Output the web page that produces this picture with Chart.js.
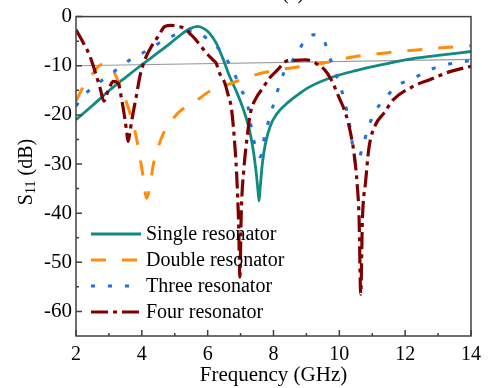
<!DOCTYPE html>
<html>
<head>
<meta charset="utf-8">
<script src="https://cdn.jsdelivr.net/npm/chart.js@4"></script>
<style>
  html, body { margin: 0; padding: 0; background: #fff; }
</style>
</head>
<body>
<canvas id="s11-chart" width="488" height="388"></canvas>
<script>
// tick positions
const xTicks = [2, 4, 6, 8, 10, 12, 14];
const xMinorTicks = [3, 5, 7, 9, 11, 13];
const yTicks = [0, -10, -20, -30, -40, -50, -60];
const yMinorTicks = [-5, -15, -25, -35, -45, -55];

// single resonator
const singleFreq = [2, 2.5, 3, 3.5, 4, 4.5, 4.85, 5.2, 5.45, 5.7, 5.9, 6.06, 6.26, 6.46, 6.67, 6.87, 7.07, 7.25, 7.38, 7.47, 7.53, 7.56, 7.6, 7.66, 7.75, 7.9, 8.1, 8.45, 8.8, 9.1, 9.8, 10.5, 11.5, 12, 13, 14];
const singleS11 = [-21, -18.1, -15.1, -12.4, -9.8, -7.3, -5.5, -3.6, -2.5, -2.0, -2.5, -3.4, -5.4, -8.5, -12.2, -15.2, -18.6, -22.5, -27, -31.5, -35.5, -37.5, -34.5, -30, -26, -22.3, -19.8, -17.4, -15.6, -14.3, -12.3, -11.0, -9.5, -8.8, -7.9, -7.1];

// double resonator
const doubleFreq = [2, 2.17, 2.35, 2.52, 2.65, 2.85, 3.05, 3.28, 3.45, 3.59, 3.79, 3.94, 4.06, 4.14, 4.25, 4.33, 4.5, 4.64, 4.9, 5.15, 5.66, 6.06, 6.67, 7.47, 8.0, 8.48, 9.49, 10.5, 11.4, 12, 13, 14];
const doubleS11 = [-17.2, -14.9, -12.8, -11.5, -10.3, -9.6, -10.0, -13.2, -16, -18.6, -23.3, -28.5, -33.5, -37.0, -34.5, -30.8, -26.5, -24, -21.2, -19.3, -17.1, -15.2, -13.7, -11.8, -11.0, -10.5, -9.5, -8.1, -7.4, -7.0, -6.4, -5.9];

// three resonator
const threeFreq = [2, 2.32, 2.78, 3.23, 3.69, 4.19, 4.7, 5.25, 5.5, 5.71, 6.16, 6.52, 6.82, 7.02, 7.2, 7.32, 7.42, 7.6, 7.73, 7.88, 8.03, 8.18, 8.33, 8.52, 8.69, 9.04, 9.25, 9.5, 9.7, 9.9, 10.0, 10.15, 10.3, 10.52, 10.7, 10.86, 11.06, 11.36, 11.73, 12.24, 12.76, 13.24, 13.85, 14];
const threeS11 = [-18.2, -15.5, -13.0, -10.8, -8.6, -6.8, -4.7, -3.2, -3.0, -3.4, -5.4, -8.1, -11.8, -14.9, -17.5, -22.3, -25.7, -28.5, -24.3, -20.6, -17.2, -13.9, -11.2, -9.5, -7.8, -4.1, -3.7, -4.4, -8.1, -11.8, -13.5, -17, -21.5, -30, -26.7, -23, -19.6, -16.9, -14.2, -12.6, -10.8, -9.8, -9.1, -8.9];

// four resonator
const fourFreq = [2, 2.22, 2.42, 2.58, 2.73, 2.85, 2.93, 3.03, 3.13, 3.28, 3.38, 3.48, 3.54, 3.58, 3.64, 3.69, 3.84, 3.94, 4.09, 4.29, 4.49, 4.7, 4.9, 5.1, 5.3, 5.45, 5.6, 5.76, 5.96, 6.16, 6.26, 6.36, 6.52, 6.62, 6.72, 6.8, 6.88, 6.94, 6.98, 7.02, 7.1, 7.2, 7.3, 7.47, 7.68, 7.88, 8.13, 8.38, 8.6, 8.99, 9.29, 9.55, 9.75, 10.0, 10.2, 10.35, 10.45, 10.55, 10.6, 10.65, 10.7, 10.8, 10.9, 11.1, 11.36, 11.64, 12.24, 12.76, 13.36, 14];
const fourS11 = [-2.7, -5.3, -8, -11.2, -14.5, -17.2, -15.9, -14.2, -13.2, -13.5, -16.6, -20.6, -23.5, -25.4, -23.5, -21.3, -15.9, -12.2, -8.8, -6.1, -4.1, -2.0, -1.8, -2.0, -2.4, -3.4, -4.4, -5.7, -7.4, -8.8, -9.5, -11.5, -13.5, -15.9, -18.6, -24, -32, -42, -53, -40, -31, -24.5, -19.6, -16.6, -14.5, -12.5, -10.8, -9.1, -8.9, -8.8, -9.5, -10.8, -12.8, -16.6, -19.9, -24, -28, -34.8, -41, -56.5, -41.6, -33.5, -26.7, -22, -19.6, -16.9, -14.2, -12.8, -11.2, -10.1];

// thin grey reference line
const refFreq = [2, 14];
const refS11 = [-10, -8.7];

const serif = "'Liberation Serif', 'Times New Roman', serif";

function toPoints(xs, ys) {
    return xs.map((x, i) => ({ x: x, y: ys[i] }));
}

function fixTicks(values) {
    return scale => { scale.ticks = values.map(v => ({ value: v })); };
}

// frame, inward ticks, legend, y title
const decorPlugin = {
    id: 'decor',
    afterDatasetsDraw(chart) {
        const ctx = chart.ctx;
        const a = chart.chartArea;
        const xs = chart.scales.x, ys = chart.scales.y;
        ctx.save();
        ctx.strokeStyle = '#404040';
        ctx.lineWidth = 1.5;
        ctx.strokeRect(a.left, a.top, a.right - a.left, a.bottom - a.top);
        ctx.beginPath();
        xTicks.forEach(v => { const p = xs.getPixelForValue(v); ctx.moveTo(p, a.bottom); ctx.lineTo(p, a.bottom - 6); });
        xMinorTicks.forEach(v => { const p = xs.getPixelForValue(v); ctx.moveTo(p, a.bottom); ctx.lineTo(p, a.bottom - 3); });
        yTicks.forEach(v => { const p = ys.getPixelForValue(v); ctx.moveTo(a.left, p); ctx.lineTo(a.left + 6, p); });
        yMinorTicks.forEach(v => { const p = ys.getPixelForValue(v); ctx.moveTo(a.left, p); ctx.lineTo(a.left + 3, p); });
        ctx.stroke();

        // legend
        let row = 0;
        chart.data.datasets.forEach(ds => {
            if (!ds.label) return;
            const y = 234 + row * 26;
            ctx.strokeStyle = ds.borderColor;
            ctx.lineWidth = ds.borderWidth;
            ctx.lineCap = ds.borderCapStyle || 'butt';
            ctx.setLineDash(ds.borderDash || []);
            ctx.beginPath();
            ctx.moveTo(91, y);
            ctx.lineTo(141, y);
            ctx.stroke();
            ctx.setLineDash([]);
            ctx.fillStyle = '#000';
            ctx.font = '20px ' + serif;
            ctx.textBaseline = 'middle';
            ctx.fillText(ds.label, 146, y + 1);
            row++;
        });

        // y title with subscript
        ctx.translate(32, 172);
        ctx.rotate(-Math.PI / 2);
        ctx.fillStyle = '#000';
        ctx.textBaseline = 'alphabetic';
        ctx.font = '20px ' + serif;
        const wS = ctx.measureText('S').width;
        const wRest = ctx.measureText(' (dB)').width;
        ctx.font = '14px ' + serif;
        const wSub = ctx.measureText('11').width;
        let x = -(wS + wSub + wRest) / 2;
        ctx.font = '20px ' + serif;
        ctx.fillText('S', x, 0);
        x += wS;
        ctx.font = '14px ' + serif;
        ctx.fillText('11', x, 3);
        x += wSub;
        ctx.font = '20px ' + serif;
        ctx.fillText(' (dB)', x, 0);
        ctx.restore();

        // clipped panel label at the very top
        ctx.save();
        ctx.fillStyle = '#000';
        ctx.font = '20px ' + serif;
        ctx.textAlign = 'center';
        ctx.textBaseline = 'alphabetic';
        ctx.fillText('(a)', 293, -1);
        ctx.restore();
    }
};

new Chart(document.getElementById('s11-chart'), {
    type: 'line',
    data: {
        datasets: [
            { data: toPoints(refFreq, refS11), borderColor: '#9a9a9a', borderWidth: 1.2, order: 5 },
            { label: 'Single resonator', data: toPoints(singleFreq, singleS11), borderColor: '#118a80', borderWidth: 2.8, order: 4 },
            { label: 'Double resonator', data: toPoints(doubleFreq, doubleS11), borderColor: '#ff8c0a', borderWidth: 3, borderDash: [15, 16], order: 3 },
            { label: 'Three resonator', data: toPoints(threeFreq, threeS11), borderColor: '#1e6fe0', borderWidth: 3, borderDash: [4, 13], order: 2 },
            { label: 'Four resonator', data: toPoints(fourFreq, fourS11), borderColor: '#800000', borderWidth: 3.2, borderDash: [17, 5, 4, 5], order: 1 }
        ]
    },
    options: {
        responsive: false,
        animation: false,
        layout: { padding: { left: 0, top: 15, right: 16, bottom: 0 } },
        elements: {
            point: { radius: 0 },
            line: { cubicInterpolationMode: 'monotone', fill: false }
        },
        plugins: { legend: { display: false }, tooltip: { enabled: false } },
        scales: {
            x: {
                type: 'linear', min: 2, max: 14,
                afterBuildTicks: fixTicks(xTicks),
                afterFit: s => { s.height = 52; },
                grid: { display: false, drawTicks: false },
                border: { display: false },
                ticks: { color: '#000', padding: 7, maxRotation: 0, font: { family: serif, size: 20 } },
                title: { display: true, text: 'Frequency (GHz)', color: '#000', padding: { top: 0, bottom: 0 }, font: { family: serif, size: 21 } }
            },
            y: {
                type: 'linear', min: -65, max: 0,
                afterBuildTicks: fixTicks(yTicks),
                afterFit: s => { s.width = 76; },
                grid: { display: false, drawTicks: false },
                border: { display: false },
                ticks: { color: '#000', padding: 4, font: { family: serif, size: 21 } }
            }
        }
    },
    plugins: [decorPlugin]
});
</script>
</body>
</html>
